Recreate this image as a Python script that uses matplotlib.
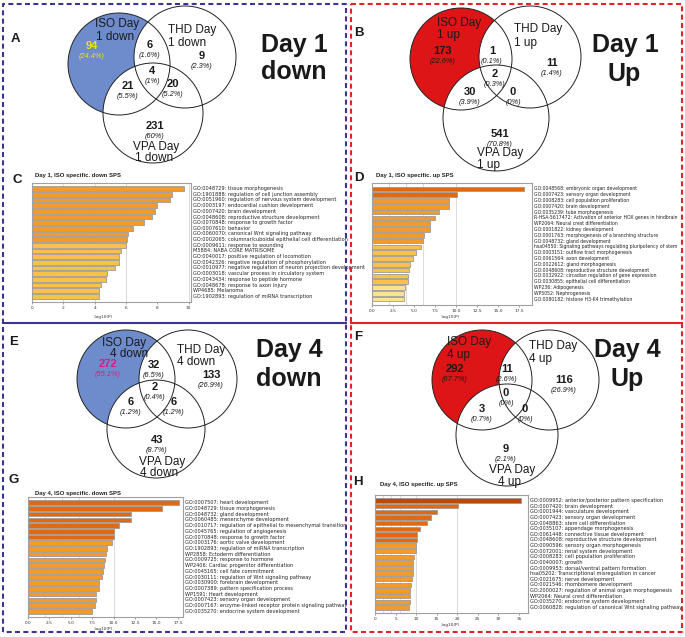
import numpy as np
import matplotlib.pyplot as plt
from matplotlib.patches import Circle
from matplotlib.transforms import blended_transform_factory

W, H = 685, 637

# Venn counts, region order: ISO, THD, VPA, ISO&THD, ISO&VPA, THD&VPA, all three
d1_down_n = [94, 9, 231, 6, 21, 20, 4]
d1_down_pct = ['24.4%', '2.3%', '60%', '1.6%', '5.5%', '5.2%', '1%']
d1_up_n = [173, 11, 541, 1, 30, 0, 2]
d1_up_pct = ['22.6%', '1.4%', '70.8%', '0.1%', '3.9%', '0%', '0.3%']
d4_down_n = [272, 133, 43, 32, 6, 6, 2]
d4_down_pct = ['55.1%', '26.9%', '8.7%', '6.5%', '1.2%', '1.2%', '0.4%']
d4_up_n = [292, 116, 9, 11, 3, 0, 0]
d4_up_pct = ['67.7%', '26.9%', '2.1%', '2.6%', '0.7%', '0%', '0%']

# enrichment bars, -log10(P)
c_terms = ['GO:0048729: tissue morphogenesis',
           'GO:1901888: regulation of cell junction assembly',
           'GO:0051960: regulation of nervous system development',
           'GO:0003197: endocardial cushion development',
           'GO:0007420: brain development',
           'GO:0048608: reproductive structure development',
           'GO:0070848: response to growth factor',
           'GO:0007610: behavior',
           'GO:0060070: canonical Wnt signaling pathway',
           'GO:0002065: columnar/cuboidal epithelial cell differentiation',
           'GO:0009611: response to wounding',
           'M5884: NABA CORE MATRISOME',
           'GO:0040017: positive regulation of locomotion',
           'GO:0042326: negative regulation of phosphorylation',
           'GO:0010977: negative regulation of neuron projection development',
           'GO:0003018: vascular process in circulatory system',
           'GO:0043434: response to peptide hormone',
           'GO:0048678: response to axon injury',
           'WP4685: Melanoma',
           'GO:1902893: regulation of miRNA transcription']
c_vals = [9.68, 8.93, 8.78, 7.95, 7.84, 7.67, 7.18, 6.47, 6.15, 6.05,
          5.98, 5.66, 5.56, 5.56, 5.30, 4.76, 4.72, 4.42, 4.25, 4.25]

d_terms = ['GO:0048568: embryonic organ development',
           'GO:0007423: sensory organ development',
           'GO:0008283: cell population proliferation',
           'GO:0007420: brain development',
           'GO:0035239: tube morphogenesis',
           'R-HSA-5617472: Activation of anterior HOX genes in hindbrain',
           'WP2064: Neural crest differentiation',
           'GO:0001822: kidney development',
           'GO:0001763: morphogenesis of a branching structure',
           'GO:0048732: gland development',
           'hsa04550: Signaling pathways regulating pluripotency of stem',
           'GO:0003151: outflow tract morphogenesis',
           'GO:0061564: axon development',
           'GO:0022612: gland morphogenesis',
           'GO:0048608: reproductive structure development',
           'GO:0032922: circadian regulation of gene expression',
           'GO:0030855: epithelial cell differentiation',
           'WP236: Adipogenesis',
           'WP5052: Nephrogenesis',
           'GO:0080182: histone H3-K4 trimethylation']
d_vals = [18.06, 10.08, 9.20, 9.13, 7.94, 7.47, 6.92, 6.84, 6.13, 6.00,
          5.77, 5.18, 4.82, 4.55, 4.35, 4.23, 4.23, 3.95, 3.83, 3.75]

g_terms = ['GO:0007507: heart development',
           'GO:0048729: tissue morphogenesis',
           'GO:0048732: gland development',
           'GO:0060485: mesenchyme development',
           'GO:0010717: regulation of epithelial to mesenchymal transition',
           'GO:0045765: regulation of angiogenesis',
           'GO:0070848: response to growth factor',
           'GO:0003176: aortic valve development',
           'GO:1902893: regulation of miRNA transcription',
           'WP2858: Ectoderm differentiation',
           'GO:0009725: response to hormone',
           'WP2406: Cardiac progenitor differentiation',
           'GO:0045165: cell fate commitment',
           'GO:0030111: regulation of Wnt signaling pathway',
           'GO:0030900: forebrain development',
           'GO:0007389: pattern specification process',
           'WP1591: Heart development',
           'GO:0007423: sensory organ development',
           'GO:0007167: enzyme-linked receptor protein signaling pathway',
           'GO:0035270: endocrine system development']
g_vals = [17.6, 15.7, 12.0, 12.0, 10.6, 10.1, 10.0, 9.77, 9.18, 9.10,
          9.02, 8.90, 8.79, 8.59, 8.32, 8.24, 7.97, 7.93, 7.77, 7.50]

h_terms = ['GO:0009952: anterior/posterior pattern specification',
           'GO:0007420: brain development',
           'GO:0001944: vasculature development',
           'GO:0007423: sensory organ development',
           'GO:0048863: stem cell differentiation',
           'GO:0035107: appendage morphogenesis',
           'GO:0061448: connective tissue development',
           'GO:0048608: reproductive structure development',
           'GO:0090596: sensory organ morphogenesis',
           'GO:0072001: renal system development',
           'GO:0008283: cell population proliferation',
           'GO:0040007: growth',
           'GO:0009953: dorsal/ventral pattern formation',
           'hsa05202: Transcriptional misregulation in cancer',
           'GO:0021675: nerve development',
           'GO:0021546: rhombomere development',
           'GO:2000027: regulation of animal organ morphogenesis',
           'WP2064: Neural crest differentiation',
           'GO:0035270: endocrine system development',
           'GO:0060828: regulation of canonical Wnt signaling pathway']
h_vals = [35.4, 20.3, 15.1, 13.5, 12.6, 10.9, 10.3, 10.2, 10.0, 9.9,
          9.6, 9.35, 9.27, 9.27, 9.1, 8.87, 8.55, 8.4, 8.4, 8.3]

# bar colours
BROWN, DARK, ORG, LIGHT, PALE = '#B84A0B', '#E2690F', '#F39A2B', '#F9C04B', '#FDE38E'
c_cols = [ORG] * 10 + [LIGHT] * 10
d_cols = [DARK] * 2 + [ORG] * 8 + [LIGHT] * 7 + [PALE] * 3
g_cols = [DARK] * 7 + [ORG] * 13
h_cols = [BROWN] + [DARK] * 7 + [ORG] * 12

SANS = 'Liberation Sans'

fig = plt.figure(figsize=(6.85, 6.37), dpi=100)
ov = fig.add_axes([0, 0, 1, 1], zorder=5)
ov.set_xlim(0, W)
ov.set_ylim(H, 0)
ov.axis('off')


def px(l, t, r, b):
    return [l / W, 1 - b / H, (r - l) / W, (b - t) / H]


def txt(x, y, s, size, **kw):
    # y = middle of capital letters, in pixels
    kw.setdefault('family', SANS)
    ov.text(x, y + 0.36 * size * 100 / 72, s, fontsize=size, va='baseline', **kw)


def venn(circles, fill, n, pct, spots, names, num_color):
    ov.add_patch(Circle(circles[0][:2], circles[0][2], fc=fill, ec='none', zorder=1))
    for c in circles[1:]:
        ov.add_patch(Circle(c[:2], c[2], fc='white', ec='none', zorder=2))
    for c in circles:
        ov.add_patch(Circle(c[:2], c[2], fc='none', ec='#222222', lw=0.7, zorder=3))
    for i, (x, y) in enumerate(spots):
        col = num_color if i == 0 else '#1a1a1a'
        txt(x, y, str(n[i]), 8, ha='center', fontweight='bold', color=col, zorder=4)
        txt(x, y + 10.5, '(%s)' % pct[i], 5.3, ha='center', style='italic', color=col, zorder=4)
    for s, x, y in names:
        txt(x, y, s, 8.5, ha='left', color='#1a1a1a', zorder=4)


venn([(119, 64, 51), (185, 57, 51), (153, 113, 50)], '#6E8CCB', d1_down_n, d1_down_pct,
     [(92, 45), (202, 55), (155, 125), (150, 44), (128, 85), (173, 83), (152, 70)],
     [('ISO Day', 95, 23), ('1 down', 96, 36), ('THD Day', 168, 29), ('1 down', 168, 42),
      ('VPA Day', 133, 146), ('1 down', 135, 157)], '#F2E600')
venn([(461, 59, 51), (530, 57, 51), (496, 118, 53)], '#DD1517', d1_up_n, d1_up_pct,
     [(443, 50), (552, 62), (500, 133), (492, 50), (470, 91), (513, 91), (495, 73)],
     [('ISO Day', 437, 22), ('1 up', 437, 34), ('THD Day', 514, 28), ('1 up', 514, 42),
      ('VPA Day', 477, 152), ('1 up', 477, 164)], '#1a1a1a')
venn([(126, 379, 49), (188, 379, 49), (156, 429, 49)], '#6E8CCB', d4_down_n, d4_down_pct,
     [(108, 363), (211, 374), (157, 439), (154, 364), (131, 401), (174, 401), (155, 386)],
     [('ISO Day', 102, 342), ('4 down', 110, 353), ('THD Day', 177, 349), ('4 down', 177, 361),
      ('VPA Day', 139, 461), ('4 down', 140, 472)], '#E0197D')
venn([(482, 380, 50), (549, 380, 50), (507, 435, 51)], '#DD1517', d4_up_n, d4_up_pct,
     [(455, 368), (564, 379), (506, 448), (507, 368), (482, 408), (525, 408), (506, 392)],
     [('ISO Day', 447, 341), ('4 up', 447, 354), ('THD Day', 529, 345), ('4 up', 529, 358),
      ('VPA Day', 489, 469), ('4 up', 498, 481)], '#1a1a1a')

# big panel captions
for s, x, y in [('Day 1', 294, 43), ('down', 294, 70), ('Day 1', 625, 43), ('Up', 624, 72),
                ('Day 4', 289, 348), ('down', 289, 377), ('Day 4', 627, 348), ('Up', 627, 377)]:
    txt(x, y, s, 18, ha='center', fontweight='bold', color='#1a1a1a')

for s, x, y in [('A', 15, 37), ('B', 359, 31), ('C', 17, 178), ('D', 359, 176),
                ('E', 14, 340), ('F', 358, 335), ('G', 14, 478), ('H', 358, 480)]:
    txt(x, y, s, 9.5, ha='center', fontweight='bold', color='#1a1a1a')


def bars(rect, vals, terms, colors, xmax, ticks, fmt, title, tpos, lpos, tsize=3.6):
    ax = fig.add_axes(px(*rect))
    y = np.arange(len(vals))
    for g in [2, 4, 6, 10, 20]:
        if g < xmax:
            ax.axvline(g, color='#d4d4d4', lw=0.6, zorder=0)
    ax.barh(y, vals, height=0.78, color=colors, edgecolor='#9a9a9a', lw=0.6, zorder=2)
    ax.set_ylim(len(vals), -1)
    ax.set_xlim(0, xmax)
    ax.set_yticks([])
    ax.set_xticks(ticks)
    ax.set_xticklabels([fmt % t for t in ticks])
    ax.tick_params(axis='x', labelsize=3.1, length=1.5, width=0.4, pad=1.2,
                   colors='#555555', labelcolor='#333333')
    for sp in ax.spines.values():
        sp.set_color('#a0a0a0')
        sp.set_linewidth(0.8)
    tr = blended_transform_factory(ax.transAxes, ax.transData)
    for yi, term in zip(y, terms):
        ax.text(1.012, yi, term, transform=tr, fontsize=tsize, va='center', ha='left',
                color='#222222')
    txt(tpos[0], tpos[1], title, 4.3, ha='left', fontweight='bold', color='#222222')
    txt(lpos[0], lpos[1], '-log10(P)', 3.1, ha='center', family='DejaVu Sans', color='#333333')


bars((32, 183, 191, 302), c_vals, c_terms, c_cols, 10.15, [0, 2, 4, 6, 8, 10], '%d',
     'Day 1, ISO specific. down SPS', (35, 175), (103, 316))
bars((372, 183, 532, 305), d_vals, d_terms, d_cols, 19.0, np.arange(0, 18, 2.5), '%.1f',
     'Day 1, ISO specific. up SPS', (376, 175), (450, 316), tsize=3.35)
bars((28, 497, 183, 617), g_vals, g_terms, g_cols, 18.1, np.arange(0, 18, 2.5), '%.1f',
     'Day 4, ISO specific. down SPS', (35, 493), (103, 628))
bars((375, 495, 528, 613), h_vals, h_terms, h_cols, 37.2, np.arange(0, 36, 5), '%d',
     'Day 4, ISO specific. up SPS', (380, 484), (450, 624))

# dashed frames
BLUE, RED = '#3B3592', '#E8202A'
dash = (0, (2.4, 1.6))
ov.plot([3, 3, 346, 346, 3], [632, 4, 4, 632, 632], color=BLUE, lw=1.5, ls=dash, zorder=6)
ov.plot([3, 346], [323, 323], color=BLUE, lw=1.5, zorder=6)
ov.plot([351, 682, 682, 351, 351], [4, 4, 632, 632, 4], color=RED, lw=1.5, ls=dash, zorder=6)
ov.plot([351, 682], [323, 323], color=RED, lw=1.5, zorder=6)

fig.savefig('out.png', dpi=100)
